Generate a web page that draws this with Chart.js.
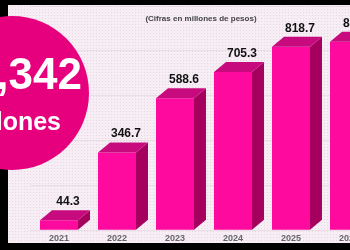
<!DOCTYPE html>
<html>
<head>
<meta charset="utf-8">
<script src="https://cdn.jsdelivr.net/npm/chart.js@4.4.1/dist/chart.umd.min.js"></script>
<style>
  html, body { margin: 0; padding: 0; width: 350px; height: 250px; overflow: hidden; background: #000; }
  #panel { position: absolute; left: 8px; top: 5px; width: 342px; height: 238px;
    background-color: #f6eef4;
    background-image: radial-gradient(circle, #e8d6e3 0.8px, transparent 1px);
    background-size: 3px 3px; }
  #wrap { position: absolute; left: 0; top: 0; width: 390px; height: 247px; }
  #sub { position: absolute; left: 100px; width: 202px; top: 14px; text-align: center;
    font: bold 8px "Liberation Sans", Arial, sans-serif; color: #444; white-space: nowrap; }
  #circle { position: absolute; left: -65px; top: 16px; width: 154px; height: 154px;
    border-radius: 50%; background: #e6007e; z-index: 5; }
  .ct { position: absolute; color: #fff; font-family: "Liberation Sans", Arial, sans-serif; font-weight: bold; white-space: nowrap; z-index: 6; }
  #big { right: 268px; top: 52px; font-size: 44px; line-height: 44px; }
  #small { right: 289px; top: 109px; font-size: 25px; line-height: 25px; }
</style>
</head>
<body>
<div id="panel"></div>
<div id="wrap"><canvas id="c" width="390" height="247"></canvas></div>
<div id="sub">(Cifras en millones de pesos)</div>
<div id="circle"></div>
<div class="ct" id="big">1,342</div>
<div class="ct" id="small">millones</div>
<script>
const years = ["2021", "2022", "2023", "2024", "2025", "2026"];
const values = [44.3, 346.7, 588.6, 705.3, 818.7, 841.0];
const valueLabels = ["44.3", "346.7", "588.6", "705.3", "818.7", "841.0"];

const DX = 12, DY = 10;
const bar3d = {
  id: 'bar3d',
  afterDatasetsDraw(chart) {
    const ctx = chart.ctx;
    const meta = chart.getDatasetMeta(0);
    ctx.save();
    meta.data.forEach((el, i) => {
      const p = el.getProps(['x', 'y', 'base', 'width'], true);
      const l = p.x - p.width / 2, r = p.x + p.width / 2;
      ctx.fillStyle = '#a6005f';
      ctx.beginPath();
      ctx.moveTo(r, p.y); ctx.lineTo(r + DX, p.y - DY);
      ctx.lineTo(r + DX, p.base - DY); ctx.lineTo(r, p.base);
      ctx.closePath(); ctx.fill();
      ctx.fillStyle = '#c70a7e';
      ctx.beginPath();
      ctx.moveTo(l, p.y); ctx.lineTo(l + DX, p.y - DY);
      ctx.lineTo(r + DX, p.y - DY); ctx.lineTo(r, p.y);
      ctx.closePath(); ctx.fill();
      ctx.fillStyle = '#111';
      ctx.font = 'bold 12px "Liberation Sans", Arial, sans-serif';
      ctx.textAlign = 'center';
      ctx.textBaseline = 'alphabetic';
      ctx.fillText(valueLabels[i], p.x + 9, p.y - DY - 5);
    });
    ctx.restore();
  }
};

new Chart(document.getElementById('c'), {
  type: 'bar',
  data: {
    labels: years,
    datasets: [{
      data: values,
      backgroundColor: '#ff0a9f',
      borderWidth: 0,
      categoryPercentage: 1,
      barPercentage: 0.655
    }]
  },
  options: {
    responsive: false,
    animation: false,
    events: [],
    layout: { padding: { left: 30, right: 12, top: 6, bottom: 0 } },
    plugins: { legend: { display: false }, tooltip: { enabled: false } },
    scales: {
      x: {
        grid: { display: false, drawTicks: false },
        border: { display: false },
        ticks: { color: '#666', padding: 3, font: { family: '"Liberation Sans", Arial, sans-serif', size: 9, weight: 'bold' } }
      },
      y: {
        min: 0, max: 1000,
        ticks: { display: false, stepSize: 200 },
        border: { display: false },
        grid: { color: 'rgba(120,80,110,0.10)', drawTicks: false }
      }
    }
  },
  plugins: [bar3d]
});
</script>
</body>
</html>
